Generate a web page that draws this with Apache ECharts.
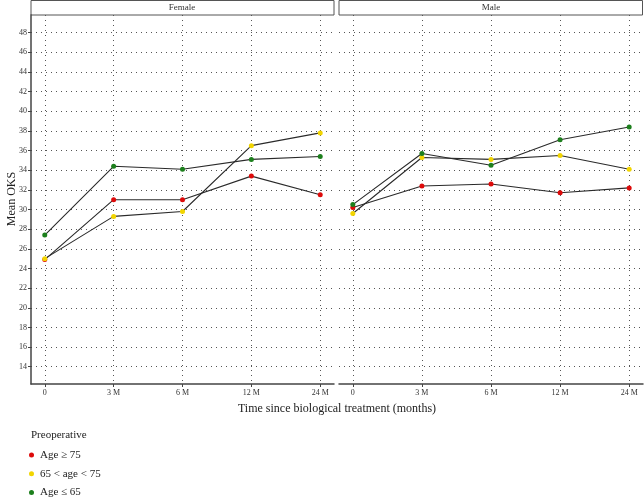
<!DOCTYPE html>
<html>
<head>
<meta charset="utf-8">
<script src="https://cdn.jsdelivr.net/npm/echarts@6/dist/echarts.min.js"></script>
<style>
  html, body { margin: 0; padding: 0; background: #fff; }
  #chart { width: 644px; height: 499px; }
</style>
</head>
<body>
<div id="chart"></div>
<script>
// time points, tick values and group names
const timeLabels = ['0', '3 M', '6 M', '12 M', '24 M'];
const yTicks = [14, 16, 18, 20, 22, 24, 26, 28, 30, 32, 34, 36, 38, 40, 42, 44, 46, 48];
const groups = ['Age \u2265 75', '65 < age < 75', 'Age \u2264 65'];
const groupColors = ['#dd0a0a', '#f2d500', '#1c7f1c'];

// mean OKS, female panel
const femaleOld = [24.9, 31.0, 31.0, 33.4, 31.5];
const femaleMid = [25.0, 29.3, 29.8, 36.5, 37.8];
const femaleYoung = [27.4, 34.4, 34.1, 35.1, 35.4];
// mean OKS, male panel
const maleOld = [30.2, 32.4, 32.6, 31.7, 32.2];
const maleMid = [29.6, 35.3, 35.1, 35.5, 34.1];
const maleYoung = [30.5, 35.7, 34.5, 37.1, 38.4];

const font = 'Liberation Serif';
const mychart = echarts.init(document.getElementById('chart'));

const toPoints = arr => arr.map((v, i) => [i, v]);

const makeX = (idx) => ({
    type: 'value',
    gridIndex: idx,
    min: -0.2,
    max: 4.2,
    axisLine: { show: true, onZero: false, lineStyle: { color: '#444', width: 1.5 } },
    axisTick: { show: true, length: 3, customValues: [0, 1, 2, 3, 4], lineStyle: { color: '#444' } },
    axisLabel: {
        show: true,
        customValues: [0, 1, 2, 3, 4],
        formatter: v => timeLabels[Math.round(v)],
        fontFamily: font, fontSize: 8, color: '#333', margin: 5
    },
    splitLine: { show: true, lineStyle: { color: '#555', width: 1, type: [1, 4] } }
});

const makeY = (idx, labels) => ({
    type: 'value',
    gridIndex: idx,
    min: 12.24,
    max: 49.8,
    axisLine: { show: labels, onZero: false, lineStyle: { color: '#444', width: 1.5 } },
    axisTick: { show: labels, length: 3, customValues: yTicks, lineStyle: { color: '#444' } },
    axisLabel: {
        show: labels,
        customValues: yTicks,
        fontFamily: font, fontSize: 8, color: '#333', margin: 4
    },
    splitLine: { show: true, lineStyle: { color: '#555', width: 1, type: [1, 4] } }
});

const makeSeries = (name, color, data, idx) => ({
    name: name,
    type: 'line',
    xAxisIndex: idx,
    yAxisIndex: idx,
    symbol: 'circle',
    symbolSize: 5,
    itemStyle: { color: color },
    lineStyle: { color: '#2a2a2a', width: 1.1 },
    emphasis: { disabled: true },
    data: toPoints(data)
});

const option = {
    animation: false,
    backgroundColor: '#fff',
    textStyle: { fontFamily: font },
    grid: [
        { left: 31, top: 15, width: 303, height: 369 },
        { left: 339, top: 15, width: 304, height: 369 }
    ],
    xAxis: [makeX(0), makeX(1)],
    yAxis: [makeY(0, true), makeY(1, false)],
    legend: {
        data: groups,
        orient: 'vertical',
        left: 29,
        top: 449,
        height: 50,
        padding: 0,
        icon: 'circle',
        itemWidth: 7,
        itemHeight: 5,
        itemGap: 6.8,
        textStyle: { fontFamily: font, fontSize: 11, color: '#222', lineHeight: 12 }
    },
    graphic: [
        { type: 'rect', shape: { x: 31, y: 0.5, width: 303, height: 14.5 }, style: { fill: '#fff', stroke: '#555', lineWidth: 1 } },
        { type: 'text', x: 182, y: 8, style: { text: 'Female', font: '9px "Liberation Serif"', fill: '#333', align: 'center', verticalAlign: 'middle' } },
        { type: 'rect', shape: { x: 339, y: 0.5, width: 303.5, height: 14.5 }, style: { fill: '#fff', stroke: '#555', lineWidth: 1 } },
        { type: 'text', x: 491, y: 8, style: { text: 'Male', font: '9px "Liberation Serif"', fill: '#333', align: 'center', verticalAlign: 'middle' } },
        { type: 'text', x: 337, y: 409, style: { text: 'Time since biological treatment (months)', font: '12px "Liberation Serif"', fill: '#222', align: 'center', verticalAlign: 'middle' } },
        { type: 'text', x: 12, y: 199, rotation: Math.PI / 2, style: { text: 'Mean OKS', font: '12px "Liberation Serif"', fill: '#222', align: 'center', verticalAlign: 'middle' } },
        { type: 'text', x: 31, y: 435, style: { text: 'Preoperative', font: '11px "Liberation Serif"', fill: '#222', align: 'left', verticalAlign: 'middle' } }
    ],
    series: [
        makeSeries(groups[0], groupColors[0], femaleOld, 0),
        makeSeries(groups[1], groupColors[1], femaleMid, 0),
        makeSeries(groups[2], groupColors[2], femaleYoung, 0),
        makeSeries(groups[0], groupColors[0], maleOld, 1),
        makeSeries(groups[1], groupColors[1], maleMid, 1),
        makeSeries(groups[2], groupColors[2], maleYoung, 1)
    ]
};

mychart.setOption(option);
window.addEventListener('resize', () => {
    mychart.resize();
});
</script>
</body>
</html>
